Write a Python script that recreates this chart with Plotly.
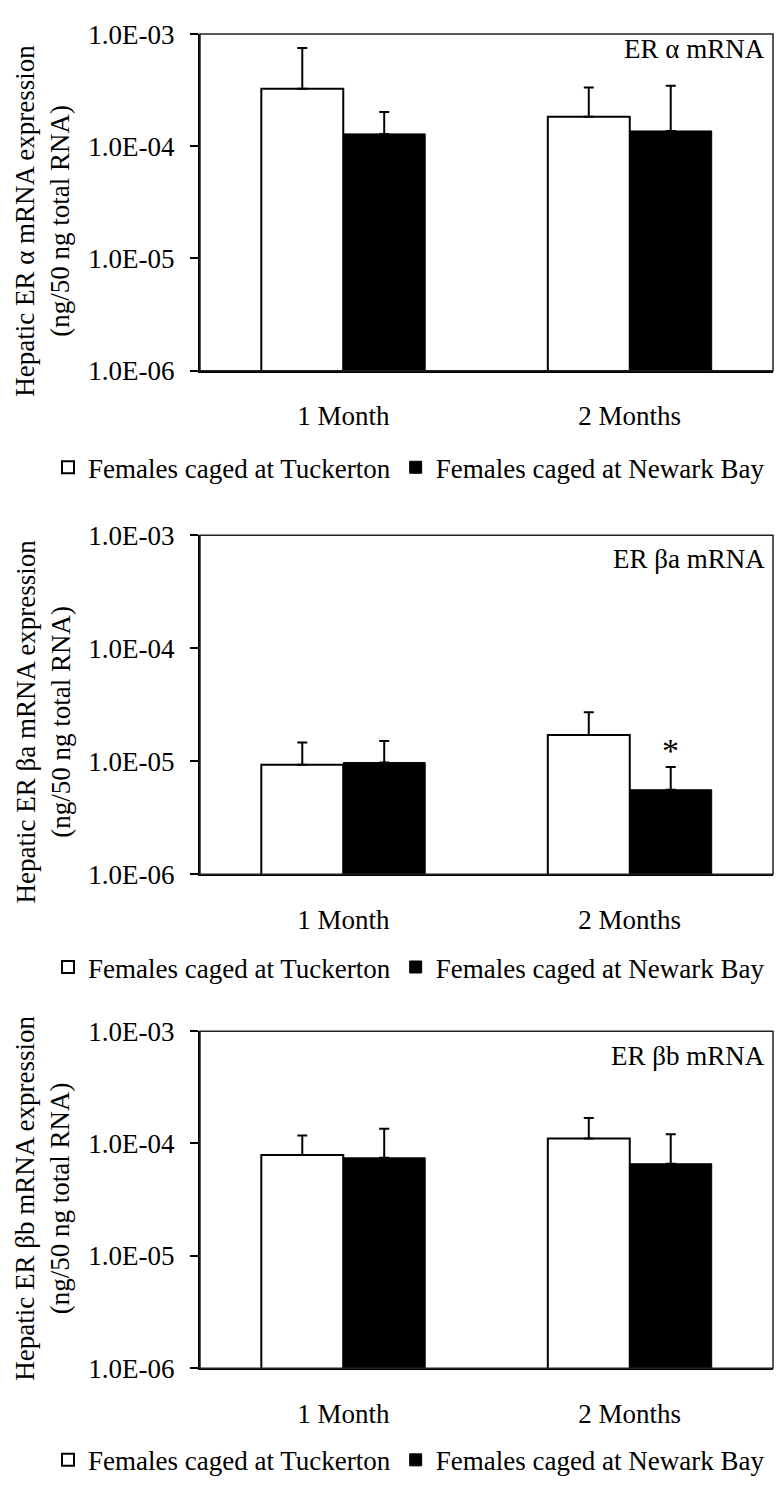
import math
import plotly.graph_objects as go

# ---------------- data ----------------
categories = ["1 Month", "2 Months"]
series_names = ["Females caged at Tuckerton", "Females caged at Newark Bay"]

panel_labels = ["ER α mRNA", "ER βa mRNA", "ER βb mRNA"]
ytitles = [
    "Hepatic ER α mRNA expression<br>(ng/50 ng total RNA)",
    "Hepatic ER βa mRNA expression<br>(ng/50 ng total RNA)",
    "Hepatic ER βb mRNA expression<br>(ng/50 ng total RNA)",
]

# ER alpha
alpha_tuckerton = [3.26e-4, 1.83e-4]
alpha_tuckerton_err = [4.26e-4, 1.51e-4]
alpha_newark = [1.29e-4, 1.37e-4]
alpha_newark_err = [0.73e-4, 2.09e-4]

# ER beta a
betaa_tuckerton = [9.35e-6, 1.71e-5]
betaa_tuckerton_err = [5.35e-6, 1.01e-5]
betaa_newark = [9.75e-6, 5.6e-6]
betaa_newark_err = [5.35e-6, 3.3e-6]

# ER beta b
betab_tuckerton = [7.9e-5, 1.107e-4]
betab_tuckerton_err = [3.9e-5, 5.83e-5]
betab_newark = [7.45e-5, 6.6e-5]
betab_newark_err = [6.05e-5, 5.5e-5]

tick_vals = [1e-6, 1e-5, 1e-4, 1e-3]
tick_text = ["1.0E-06", "1.0E-05", "1.0E-04", "1.0E-03"]

panels = [
    (alpha_tuckerton, alpha_tuckerton_err, alpha_newark, alpha_newark_err),
    (betaa_tuckerton, betaa_tuckerton_err, betaa_newark, betaa_newark_err),
    (betab_tuckerton, betab_tuckerton_err, betab_newark, betab_newark_err),
]

# ---------------- layout geometry (pixels) ----------------
W, H = 781, 1491
FONT = "'Liberation Serif', 'Times New Roman', Times, serif"
FS = 27
x_left, x_right = 200, 773
panel_px = [(19.5, 363), (531, 877), (1037, 1381)]  # (top, bottom)
legend_px = [462, 972, 1475]
ytitle_center_px = [210, 721, 1208]
label_center_px = [35, 555, 1062]


def py(p):
    return 1 - p / H


fig = go.Figure()
annotations = []
shapes = []
layout_extra = {}

for i, (wt, wte, bk, bke) in enumerate(panels):
    ax = "" if i == 0 else str(i + 1)
    leg = "legend" if i == 0 else f"legend{i + 1}"
    fig.add_trace(go.Bar(
        x=categories, y=wt, name=series_names[0],
        marker=dict(color="white", line=dict(color="black", width=2)),
        error_y=dict(type="data", symmetric=False, array=wte,
                     arrayminus=[0] * len(wte), color="black",
                     thickness=2, width=5),
        xaxis="x" + ax, yaxis="y" + ax, legend=leg,
    ))
    fig.add_trace(go.Bar(
        x=categories, y=bk, name=series_names[1],
        marker=dict(color="black", line=dict(color="black", width=1)),
        error_y=dict(type="data", symmetric=False, array=bke,
                     arrayminus=[0] * len(bke), color="black",
                     thickness=2, width=5),
        xaxis="x" + ax, yaxis="y" + ax, legend=leg,
    ))
    top, bot = panel_px[i]
    layout_extra["xaxis" + ax] = dict(
        domain=[x_left / W, x_right / W], anchor="y" + ax,
        type="category", showline=True, linecolor="black", linewidth=2,
        ticks="", showgrid=False, zeroline=False,
        tickfont=dict(family=FONT, size=FS, color="black"),
        ticklabelstandoff=20,
    )
    layout_extra["yaxis" + ax] = dict(
        domain=[py(bot), py(top)], anchor="x" + ax,
        type="log", range=[-6, -3],
        tickvals=tick_vals, ticktext=tick_text,
        ticks="outside", ticklen=8, tickwidth=2, tickcolor="black",
        showline=True, linecolor="black", linewidth=2,
        showgrid=False, zeroline=False,
        tickfont=dict(family=FONT, size=FS, color="black"),
        ticklabelstandoff=10,
    )
    layout_extra[leg] = dict(
        orientation="h", x=409 / W, xanchor="center",
        y=py(legend_px[i]), yanchor="middle",
        font=dict(family=FONT, size=FS, color="black"),
        bgcolor="rgba(0,0,0,0)", itemwidth=30, tracegroupgap=0,
    )
    # plot-area border (top and right)
    shapes.append(dict(type="rect", xref=f"x{ax} domain", yref=f"y{ax} domain",
                       x0=0, x1=1, y0=0, y1=1,
                       line=dict(color="#222", width=1.5)))
    annotations.append(dict(
        text=ytitles[i], textangle=-90, xref="paper", yref="paper",
        x=43 / W, y=py(ytitle_center_px[i]), xanchor="center", yanchor="middle",
        showarrow=False, font=dict(family=FONT, size=FS, color="black"),
    ))
    annotations.append(dict(
        text=panel_labels[i], xref="paper", yref="paper",
        x=767 / W, y=py(label_center_px[i]), xanchor="right", yanchor="middle",
        showarrow=False, font=dict(family=FONT, size=FS, color="black"),
    ))

# significance asterisk above Newark Bay bar, 2 Months, ER beta a
annotations.append(dict(
    text="*", xref="x2", yref="y2",
    x=categories[1], y=math.log10(betaa_newark[1] + betaa_newark_err[1]),
    xshift=41, yshift=-4, yanchor="bottom", showarrow=False,
    font=dict(family=FONT, size=34, color="black"),
))

fig.update_layout(
    width=W, height=H,
    margin=dict(l=0, r=0, t=0, b=0),
    paper_bgcolor="white", plot_bgcolor="white",
    barmode="group", bargap=0.428, bargroupgap=0,
    annotations=annotations, shapes=shapes,
    font=dict(family=FONT, size=FS, color="black"),
    **layout_extra,
)

fig.write_html("out.html")
